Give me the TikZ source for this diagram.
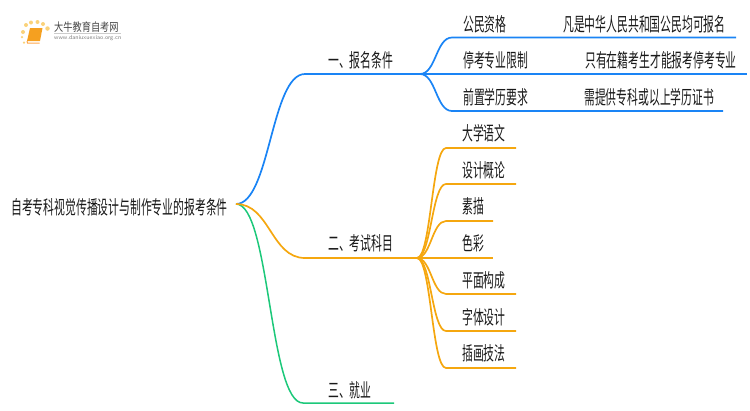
\documentclass[tikz,border=0pt]{standalone}
\usepackage{fontspec}
\usetikzlibrary{positioning}
\newfontfamily\cjk[FakeStretch=0.57]{Noto Sans CJK SC}
\newfontfamily\cjklogo[FakeStretch=0.8]{Noto Sans CJK SC}
\definecolor{bluebr}{HTML}{1A84F5}
\definecolor{orangebr}{HTML}{F5A70F}
\definecolor{greenbr}{HTML}{1CC87A}
\definecolor{logoink}{HTML}{444444}
\definecolor{logobook}{HTML}{F5A020}
\definecolor{logodot}{HTML}{FAD27A}
\tikzset{
  label/.style={anchor=west,inner sep=0pt,font=\cjk\fontsize{19}{19}\selectfont,text=black!90},
  logotext/.style={anchor=west,inner sep=0pt,text=logoink},
  dot/.style={circle,fill=logodot,inner sep=0pt,minimum size=#1},
  branch/.style={out=0,in=180,distance=#1},
}
\begin{document}
\begin{tikzpicture}[x=1pt,y=-1pt]
  \useasboundingbox (0,0) rectangle (750,410);

  % logo
  \node[dot=4pt] (d1) at (23,32) {};
  \node[dot=4pt] (d2) at (26,25) {};
  \node[dot=4pt] (d3) at (31,22.5) {};
  \node[dot=4pt] (d4) at (37.5,22) {};
  \node[dot=4pt] (d5) at (43,24) {};
  \node[dot=4.5pt] (d6) at (47.5,28.5) {};
  \node[dot=2.5pt] (d7) at (22,37) {};
  \node[dot=2.5pt] (d8) at (24,42.5) {};
  \fill[logobook] (30,28) -- (42.5,28) -- (40,41) -- (27,41) -- cycle;
  \draw[orange!70,line width=1pt] (27,41) -- (27.5,43) -- (39.5,43);
  \node[logotext,font=\cjklogo\fontsize{11.5}{11.5}\selectfont] (logo) at (54,27) {大牛教育自考网};
  \node[logotext,font=\sffamily\fontsize{6}{6}\selectfont,text=gray] (url) at (54,38.5) {www.daniuxuexiao.org.cn};
  \draw[gray!40,line width=.4pt] (54,33) -- (121,33);

  % text
  \node[label] (root) at (11,207) {自考专科视觉传播设计与制作专业的报考条件};

  \node[label] (baoming) at (328,60) {一、报名条件};
  \node[label] (kaoshi)  at (328,243) {二、考试科目};
  \node[label] (jiuye)   at (328,390) {三、就业};

  \node[label] (zige)    at (463,24) {公民资格};
  \node[label] (xianzhi) at (463,60) {停考专业限制};
  \node[label] (xueli)   at (463,97) {前置学历要求};
  \node[label] (zigeA)    at (563,24) {凡是中华人民共和国公民均可报名};
  \node[label] (xianzhiA) at (585,60) {只有在籍考生才能报考停考专业};
  \node[label] (xueliA)   at (584,97) {需提供专科或以上学历证书};

  \node[label] (yuwen)  at (462,133) {大学语文};
  \node[label] (gailun) at (462,170) {设计概论};
  \node[label] (sumiao) at (462,206) {素描};
  \node[label] (secai)  at (462,243) {色彩};
  \node[label] (pingmian) at (462,280) {平面构成};
  \node[label] (ziti)   at (462,317) {字体设计};
  \node[label] (chahua) at (462,353) {插画技法};

  % branch points
  \coordinate (R) at (236,204);
  \coordinate (B0) at (305,74);
  \coordinate (B) at (420,74);
  \coordinate (K0) at (305,258);
  \coordinate (K) at (417,258);
  \coordinate (J0) at (303,403);
  \coordinate (J) at (394,403);

  \coordinate (B1) at (452,37.5);
  \coordinate (B1e) at (736,37.5);
  \coordinate (B2e) at (747,74);
  \coordinate (B3) at (452,111);
  \coordinate (B3e) at (723,111);

  \coordinate (K1) at (446,148);
  \coordinate (K1e) at (516,148);
  \coordinate (K2) at (446,184);
  \coordinate (K2e) at (516,184);
  \coordinate (K3) at (446,221);
  \coordinate (K3e) at (493,221);
  \coordinate (K4e) at (493,258);
  \coordinate (K5) at (446,294);
  \coordinate (K5e) at (516,294);
  \coordinate (K6) at (446,331);
  \coordinate (K6e) at (516,331);
  \coordinate (K7) at (446,368);
  \coordinate (K7e) at (516,368);

  % connectors
  \draw[greenbr,line width=1.5pt] (R) to[branch=34pt] (J0) -- (J);

  \begin{scope}[bluebr,line width=1.7pt]
    \draw (R) to[branch=34pt] (B0) -- (B);
    \draw (B) to[branch=16pt] (B1) -- (B1e);
    \draw (B) -- (B2e);
    \draw (B) to[branch=16pt] (B3) -- (B3e);
  \end{scope}

  \begin{scope}[orangebr,line width=1.7pt]
    \draw (R) to[branch=34pt] (K0) -- (K);
    \draw (K) to[branch=14pt] (K1) -- (K1e);
    \draw (K) to[branch=14pt] (K2) -- (K2e);
    \draw (K) to[branch=14pt] (K3) -- (K3e);
    \draw (K) -- (K4e);
    \draw (K) to[branch=14pt] (K5) -- (K5e);
    \draw (K) to[branch=14pt] (K6) -- (K6e);
    \draw (K) to[branch=14pt] (K7) -- (K7e);
  \end{scope}
\end{tikzpicture}
\end{document}
